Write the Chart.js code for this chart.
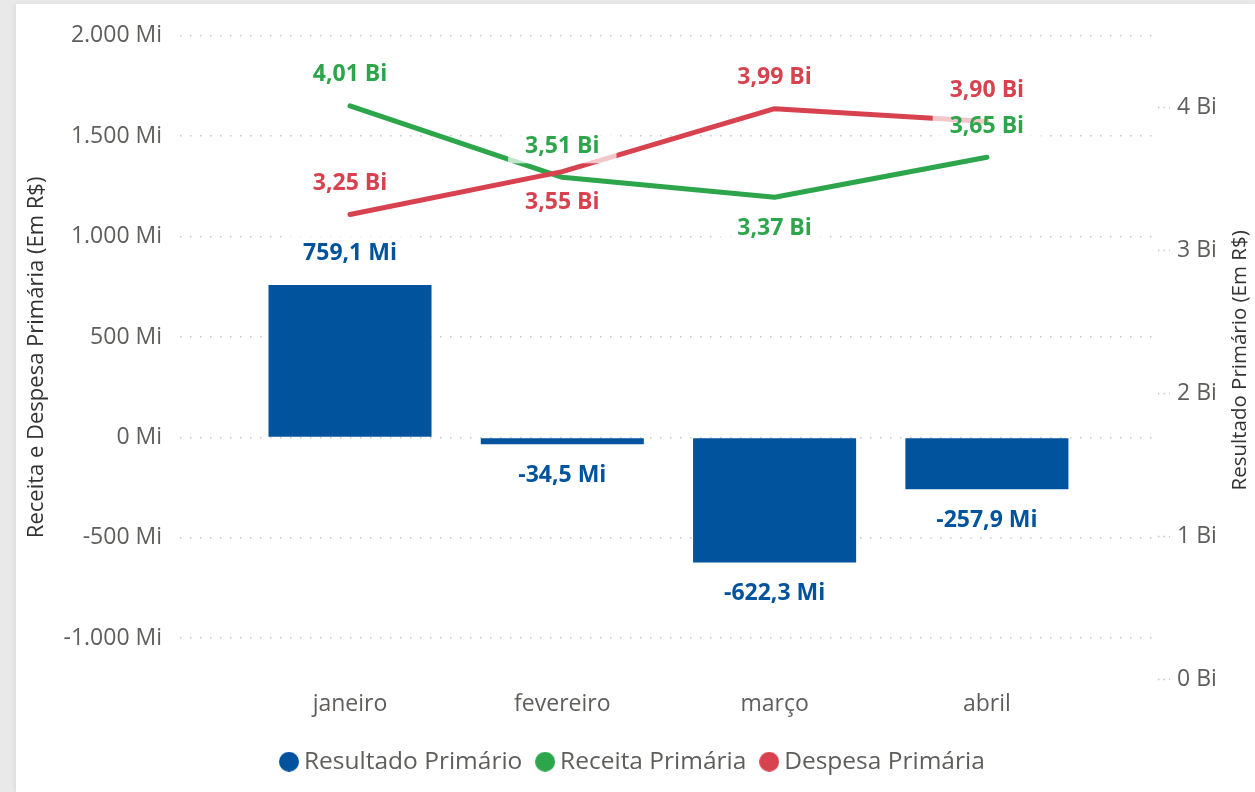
<!DOCTYPE html>
<html>
<head>
<meta charset="utf-8">
<script src="https://cdn.jsdelivr.net/npm/chart.js@4.4.1/dist/chart.umd.min.js"></script>
<style>
  html, body { margin: 0; padding: 0; background: #e9e9e9; width: 1255px; height: 792px; overflow: hidden; }
  #card { position: absolute; left: 16px; top: 4px; width: 1239px; height: 788px; background: #fff; box-shadow: -2px 0 4px rgba(0,0,0,0.05); }
</style>
</head>
<body>
<div id="card"><canvas id="grafico"></canvas></div>
<script>
// Meses e séries
const meses = ['janeiro', 'fevereiro', 'março', 'abril'];
const resultadoPrimarioMi = [759.1, -34.5, -622.3, -257.9];
const receitaPrimariaBi = [4.01, 3.51, 3.37, 3.65];
const despesaPrimariaBi = [3.25, 3.55, 3.99, 3.90];

// Marcas dos eixos
const ticksEsquerdaMi = [-1000, -500, 0, 500, 1000, 1500, 2000];
const ticksDireitaBi = [0, 1, 2, 3, 4];

// Lado do rótulo de cada ponto das linhas
const ladoRotuloReceita = ['acima', 'acima', 'abaixo', 'acima'];
const ladoRotuloDespesa = ['acima', 'abaixo', 'acima', 'acima'];

const AZUL = '#00539c';
const VERDE = '#2ca54b';
const VERMELHO = '#d8424f';
const CINZA_TEXTO = '#605e5c';
const FONTE = '"Open Sans", sans-serif';

Chart.defaults.font.family = FONTE;

function milhar(v) {
  const s = Math.abs(v).toFixed(0).replace(/\B(?=(\d{3})+(?!\d))/g, '.');
  return (v < 0 ? '-' : '') + s;
}
function decimal(v, casas) {
  return v.toFixed(casas).replace('.', ',');
}

// Marcador circular da legenda (20 px), colado ao texto
function marcadorCircular(cor) {
  const c = document.createElement('canvas');
  c.width = 20;
  c.height = 20;
  const g = c.getContext('2d');
  g.fillStyle = cor;
  g.beginPath();
  g.arc(10, 10, 10, 0, Math.PI * 2);
  g.fill();
  return c;
}

// Rótulos de valor com fundo branco translúcido
const rotulos = {
  id: 'rotulos',
  afterDatasetsDraw(chart) {
    const ctx = chart.ctx;
    const itens = [];
    chart.data.datasets.forEach((ds, di) => {
      const meta = chart.getDatasetMeta(di);
      meta.data.forEach((el, i) => {
        const v = ds.data[i].y;
        let texto, y;
        if (ds.type === 'bar') {
          texto = decimal(v, 1) + ' Mi';
          y = v >= 0 ? el.y - 32 : el.y + 31;
        } else {
          texto = decimal(v, 2) + ' Bi';
          y = ds.ladoRotulo[i] === 'acima' ? el.y - 31 : el.y + 31;
        }
        itens.push({ texto, x: el.x, y, cor: ds.corRotulo });
      });
    });
    ctx.save();
    ctx.font = 'bold 23px ' + FONTE;
    itens.forEach(it => {
      const w = ctx.measureText(it.texto).width + 34;
      ctx.fillStyle = 'rgba(255,255,255,0.7)';
      ctx.fillRect(it.x - w / 2, it.y - 17, w, 34);
    });
    ctx.textAlign = 'center';
    ctx.textBaseline = 'middle';
    itens.forEach(it => {
      ctx.fillStyle = it.cor;
      ctx.fillText(it.texto, it.x, it.y);
    });
    ctx.restore();
  }
};

// Título do eixo direito, lido de baixo para cima
const tituloDireito = {
  id: 'tituloDireito',
  afterDraw(chart) {
    const ctx = chart.ctx;
    const a = chart.chartArea;
    ctx.save();
    ctx.translate(chart.width - 15, (a.top + a.bottom) / 2 + 3);
    ctx.rotate(-Math.PI / 2);
    ctx.font = '20.5px ' + FONTE;
    ctx.fillStyle = '#333333';
    ctx.textAlign = 'center';
    ctx.textBaseline = 'middle';
    ctx.fillText('Resultado Primário (Em R$)', 0, 0);
    ctx.restore();
  }
};

const pontos = arr => meses.map((m, i) => ({ x: i, y: arr[i] }));

new Chart(document.getElementById('grafico'), {
  data: {
    datasets: [
      {
        type: 'bar',
        label: 'Resultado Primário',
        data: pontos(resultadoPrimarioMi),
        backgroundColor: AZUL,
        corRotulo: AZUL,
        yAxisID: 'y',
        barPercentage: 0.768,
        categoryPercentage: 1,
        order: 3
      },
      {
        type: 'line',
        label: 'Receita Primária',
        data: pontos(receitaPrimariaBi),
        borderColor: VERDE,
        backgroundColor: VERDE,
        corRotulo: VERDE,
        ladoRotulo: ladoRotuloReceita,
        borderWidth: 5,
        borderCapStyle: 'round',
        borderJoinStyle: 'round',
        pointRadius: 0,
        tension: 0,
        yAxisID: 'y1',
        order: 2
      },
      {
        type: 'line',
        label: 'Despesa Primária',
        data: pontos(despesaPrimariaBi),
        borderColor: VERMELHO,
        backgroundColor: VERMELHO,
        corRotulo: VERMELHO,
        ladoRotulo: ladoRotuloDespesa,
        borderWidth: 5,
        borderCapStyle: 'round',
        borderJoinStyle: 'round',
        pointRadius: 0,
        tension: 0,
        yAxisID: 'y1',
        order: 1
      }
    ]
  },
  options: {
    responsive: true,
    maintainAspectRatio: false,
    animation: false,
    layout: { padding: { top: 29, bottom: 8, left: 0, right: 0 } },
    plugins: {
      tooltip: { enabled: false },
      legend: {
        position: 'bottom',
        labels: {
          usePointStyle: true,
          boxHeight: 14,
          pointStyleWidth: 5.5,
          padding: 20,
          color: CINZA_TEXTO,
          font: { size: 24.5 },
          sort: (a, b) => a.datasetIndex - b.datasetIndex,
          generateLabels(chart) {
            return Chart.defaults.plugins.legend.labels.generateLabels(chart).map(l => {
              l.pointStyle = marcadorCircular(chart.data.datasets[l.datasetIndex].backgroundColor);
              l.lineWidth = 0;
              l.strokeStyle = 'transparent';
              return l;
            });
          }
        }
      }
    },
    scales: {
      x: {
        type: 'linear',
        position: 'bottom',
        offset: false,
        min: -0.8008,
        max: 3.806,
        grid: { display: false, drawTicks: false, offset: false },
        border: { display: false },
        afterBuildTicks(axis) { axis.ticks = meses.map((m, i) => ({ value: i })); },
        afterFit(axis) { axis.height = 50.5; },
        ticks: {
          padding: 12,
          color: CINZA_TEXTO,
          font: { size: 23 },
          callback: v => meses[v]
        }
      },
      y: {
        type: 'linear',
        position: 'left',
        min: -1203,
        max: 2000,
        afterBuildTicks(axis) { axis.ticks = ticksEsquerdaMi.map(v => ({ value: v })); },
        afterFit(axis) { axis.width = 164; },
        grid: {
          color: 'rgba(0,0,0,0.22)',
          lineWidth: 1.5,
          drawTicks: false
        },
        border: { display: false, dash: [1.5, 8.5] },
        ticks: {
          padding: 18,
          color: CINZA_TEXTO,
          font: { size: 23 },
          callback: v => milhar(v) + ' Mi'
        },
        title: {
          display: true,
          text: 'Receita e Despesa Primária (Em R$)',
          color: '#333333',
          font: { size: 22 },
          padding: { top: 8, bottom: 0 }
        }
      },
      y1: {
        type: 'linear',
        position: 'right',
        min: 0,
        max: 4.5,
        afterBuildTicks(axis) { axis.ticks = ticksDireitaBi.map(v => ({ value: v })); },
        afterFit(axis) { axis.width = 97; },
        grid: {
          drawOnChartArea: false,
          drawTicks: true,
          tickLength: 12,
          tickColor: 'rgba(0,0,0,0.22)',
          tickWidth: 1.5,
          tickBorderDash: [1.5, 4]
        },
        border: { display: false },
        ticks: {
          padding: 7,
          color: CINZA_TEXTO,
          font: { size: 23 },
          callback: v => v + ' Bi'
        }
      }
    }
  },
  plugins: [rotulos, tituloDireito]
});
</script>
</body>
</html>
